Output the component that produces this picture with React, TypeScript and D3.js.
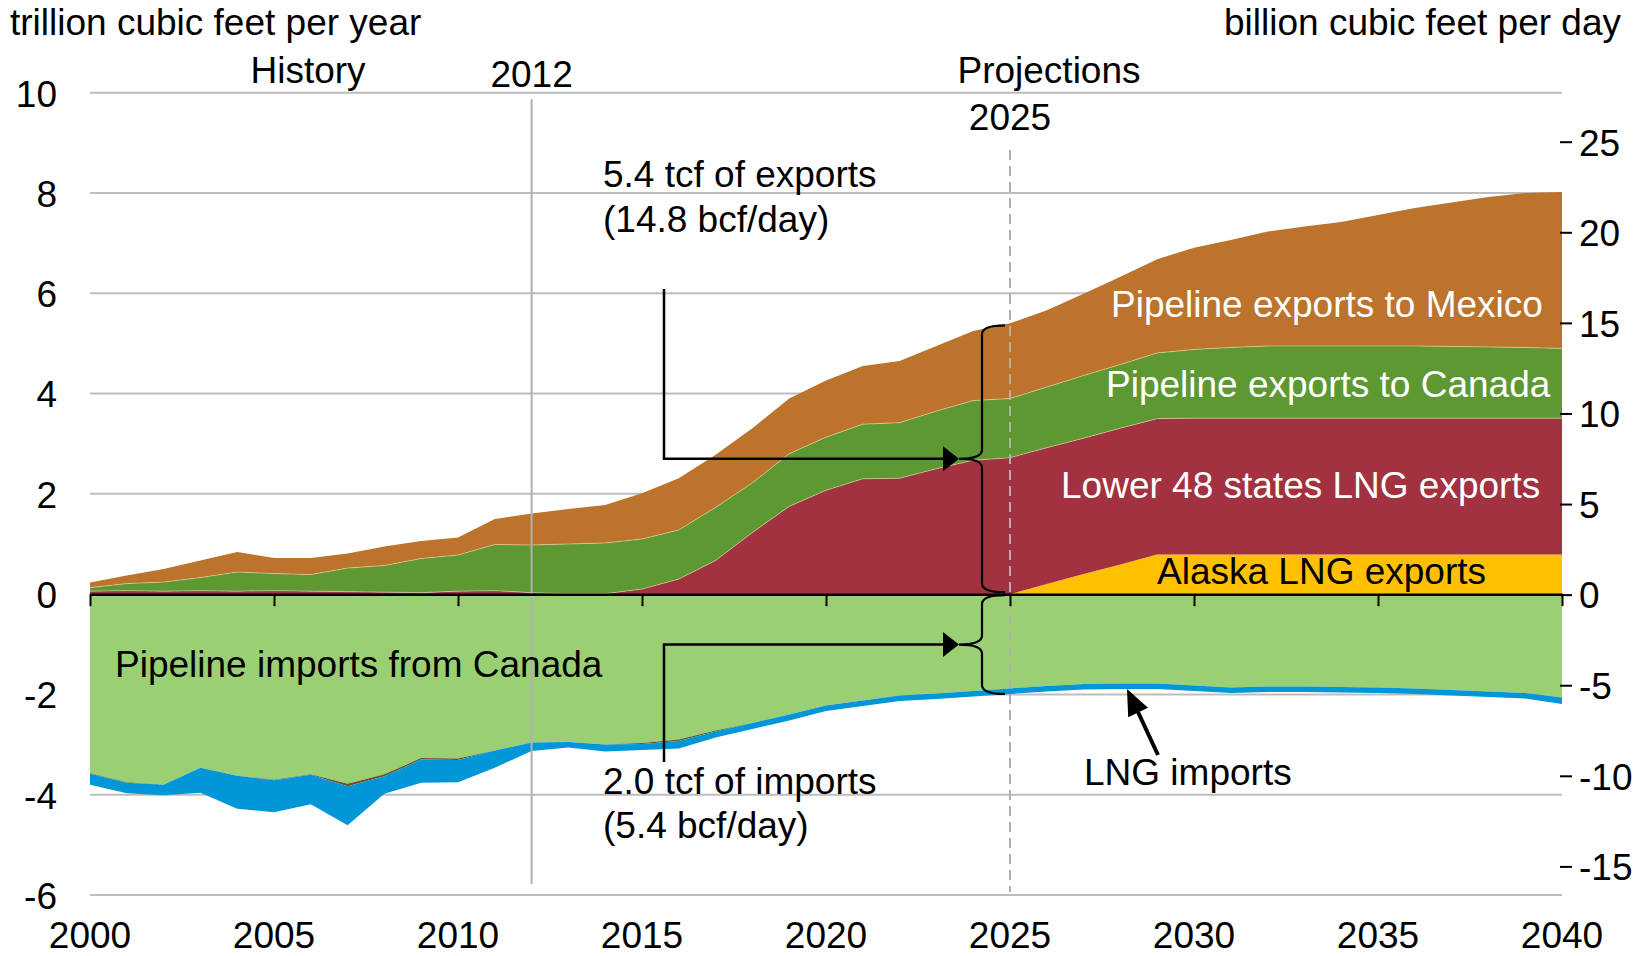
import React, { useEffect, useRef } from "react";
import { select, scaleLinear, stack, area, line, axisLeft, axisRight, axisBottom } from "d3";

// years on the x axis
const years = [
  2000, 2001, 2002, 2003, 2004, 2005, 2006, 2007, 2008, 2009,
  2010, 2011, 2012, 2013, 2014, 2015, 2016, 2017, 2018, 2019,
  2020, 2021, 2022, 2023, 2024, 2025, 2026, 2027, 2028, 2029,
  2030, 2031, 2032, 2033, 2034, 2035, 2036, 2037, 2038, 2039, 2040,
];

// exports, trillion cubic feet per year (stacked upward in this order)
const alaskaLngExports = [
  0, 0, 0, 0, 0, 0, 0, 0, 0, 0,
  0, 0, 0, 0, 0, 0, 0, 0, 0, 0,
  0, 0, 0, 0, 0, 0, 0.2, 0.4, 0.59, 0.79,
  0.79, 0.79, 0.79, 0.79, 0.79, 0.79, 0.79, 0.79, 0.79, 0.79, 0.79,
];
const lower48LngExports = [
  0.06, 0.07, 0.06, 0.07, 0.06, 0.07, 0.06, 0.05, 0.04, 0.03,
  0.06, 0.07, 0.03, 0.01, 0.01, 0.1, 0.3, 0.67, 1.23, 1.75,
  2.07, 2.3, 2.31, 2.5, 2.67, 2.72, 2.72, 2.71, 2.72, 2.71,
  2.72, 2.72, 2.72, 2.72, 2.72, 2.72, 2.72, 2.72, 2.72, 2.72, 2.72,
];
const pipelineExportsCanada = [
  0.07, 0.14, 0.18, 0.26, 0.38, 0.34, 0.33, 0.47, 0.53, 0.68,
  0.72, 0.92, 0.95, 0.99, 1.01, 1.0, 0.98, 1.06, 0.99, 1.05,
  1.06, 1.09, 1.11, 1.15, 1.19, 1.18, 1.21, 1.25, 1.27, 1.31,
  1.37, 1.41, 1.44, 1.44, 1.44, 1.44, 1.44, 1.43, 1.42, 1.41, 1.39,
];
const pipelineExportsMexico = [
  0.1, 0.16, 0.26, 0.34, 0.4, 0.31, 0.33, 0.29, 0.38, 0.35,
  0.35, 0.51, 0.63, 0.7, 0.76, 0.91, 1.03, 1.05, 1.09, 1.1,
  1.13, 1.16, 1.23, 1.3, 1.39, 1.5, 1.53, 1.63, 1.75, 1.87,
  2.03, 2.14, 2.28, 2.38, 2.47, 2.61, 2.75, 2.87, 2.99, 3.08, 3.12,
];

// imports, negative (stacked downward in this order)
const pipelineImportsCanada = [
  -3.57, -3.75, -3.8, -3.46, -3.62, -3.7, -3.59, -3.78, -3.59, -3.27,
  -3.28, -3.12, -2.96, -2.95, -3.0, -2.97, -2.9, -2.72, -2.57, -2.4,
  -2.22, -2.12, -2.02, -1.98, -1.93, -1.88, -1.83, -1.79, -1.78, -1.78,
  -1.82, -1.86, -1.84, -1.84, -1.85, -1.86, -1.88, -1.91, -1.94, -1.97, -2.06,
];
const pipelineImportsMexico = [
  -0.01, -0.01, 0, 0, 0, -0.01, -0.01, -0.05, -0.04, -0.03,
  -0.03, 0, 0, 0, 0, -0.02, -0.03, -0.02, 0, 0,
  0, 0, 0, 0, 0, 0, 0, 0, 0, 0,
  0, 0, 0, 0, 0, 0, 0, 0, 0, 0, 0,
];
const lngImports = [
  -0.22, -0.21, -0.21, -0.5, -0.66, -0.64, -0.59, -0.78, -0.35, -0.46,
  -0.44, -0.34, -0.17, -0.11, -0.14, -0.12, -0.15, -0.12, -0.12, -0.12,
  -0.11, -0.11, -0.11, -0.11, -0.11, -0.11, -0.11, -0.11, -0.11, -0.11,
  -0.11, -0.11, -0.11, -0.11, -0.11, -0.11, -0.11, -0.11, -0.11, -0.11, -0.13,
];

const leftTicks = [-6, -4, -2, 0, 2, 4, 6, 8, 10];
const rightTicks = [-15, -10, -5, 0, 5, 10, 15, 20, 25];
const xTicks = [2000, 2005, 2010, 2015, 2020, 2025, 2030, 2035, 2040];

const colors: Record<string, string> = {
  alaska: "#FFC000",
  lower48: "#A2323F",
  canadaOut: "#5E9833",
  mexicoOut: "#BC742D",
  canadaIn: "#9ACF74",
  mexicoIn: "#6B5322",
  lngIn: "#0096D7",
};

const FONT = "'Liberation Sans', Arial, Helvetica, sans-serif";
const FS = 37;

const App = () => {
  const ref = useRef<SVGSVGElement>(null);

  useEffect(() => {
    document.body.style.margin = "0";
    const svg = select(ref.current);
    svg.selectAll("*").remove();

    const x = scaleLinear().domain([2000, 2040]).range([90, 1562]);
    const y = scaleLinear().domain([-6, 10]).range([895, 92.7]);
    const yRight = scaleLinear().domain([-15, 25]).range([866.4, 141.7]);

    const table = years.map((year, i) => ({
      year,
      alaska: alaskaLngExports[i],
      lower48: lower48LngExports[i],
      canadaOut: pipelineExportsCanada[i],
      mexicoOut: pipelineExportsMexico[i],
      canadaIn: pipelineImportsCanada[i],
      mexicoIn: pipelineImportsMexico[i],
      lngIn: lngImports[i],
    }));

    const exportSeries = stack<any>().keys(["alaska", "lower48", "canadaOut", "mexicoOut"])(table);
    const importSeries = stack<any>().keys(["canadaIn", "mexicoIn", "lngIn"])(table);

    const areaGen = area<any>()
      .x((d) => x(d.data.year))
      .y0((d) => y(d[0]))
      .y1((d) => y(d[1]));
    const topEdge = line<any>()
      .x((d) => x(d.data.year))
      .y((d) => y(d[1]));

    // horizontal gridlines (behind the areas)
    svg.append("g")
      .selectAll("line")
      .data(leftTicks.filter((t) => t !== 0))
      .join("line")
      .attr("x1", x(2000))
      .attr("x2", x(2040))
      .attr("y1", (d) => y(d))
      .attr("y2", (d) => y(d))
      .attr("stroke", "#bdbdbd")
      .attr("stroke-width", 2);

    svg.append("g")
      .selectAll("path")
      .data([...importSeries, ...exportSeries])
      .join("path")
      .attr("d", (d: any) => areaGen(d))
      .attr("fill", (d: any) => colors[d.key]);

    // faint light seams between the stacked export bands
    svg.append("g")
      .selectAll("path")
      .data(exportSeries.slice(1, 3))
      .join("path")
      .attr("d", (d: any) => topEdge(d))
      .attr("fill", "none")
      .attr("stroke", "rgba(255,235,200,0.45)")
      .attr("stroke-width", 1);

    // history / projection markers
    svg.append("line")
      .attr("x1", x(2012)).attr("x2", x(2012))
      .attr("y1", 99).attr("y2", 884)
      .attr("stroke", "#b0b0b0").attr("stroke-width", 2);
    svg.append("line")
      .attr("x1", x(2025)).attr("x2", x(2025))
      .attr("y1", 150).attr("y2", 892)
      .attr("stroke", "#b0b0b0").attr("stroke-width", 2)
      .attr("stroke-dasharray", "10,6");

    // zero axis with ticks
    const zeroAxis = svg.append("g")
      .attr("transform", `translate(0,${y(0)})`)
      .call(axisBottom(x).tickValues(xTicks).tickSize(12).tickSizeOuter(0).tickFormat(() => ""));
    zeroAxis.select(".domain").attr("stroke", "#000").attr("stroke-width", 2.5);
    zeroAxis.selectAll(".tick line").attr("stroke", "#000").attr("stroke-width", 2);

    // x labels at the bottom
    svg.append("g")
      .selectAll("text")
      .data(xTicks)
      .join("text")
      .attr("x", (d) => x(d))
      .attr("y", 948)
      .attr("text-anchor", "middle")
      .attr("font-family", FONT)
      .attr("font-size", FS)
      .text((d) => String(d));

    const leftAxis = svg.append("g")
      .attr("transform", "translate(57,0)")
      .call(axisLeft(y).tickValues(leftTicks).tickSize(0).tickPadding(0).tickFormat((d) => String(d)));
    leftAxis.select(".domain").remove();
    leftAxis.attr("font-family", FONT).attr("font-size", FS);
    leftAxis.selectAll("text").attr("dy", "0.36em").attr("fill", "#000");

    const rightAxis = svg.append("g")
      .attr("transform", "translate(1560,0)")
      .call(axisRight(yRight).tickValues(rightTicks).tickSize(12).tickPadding(7).tickFormat((d) => String(d)));
    rightAxis.select(".domain").remove();
    rightAxis.attr("font-family", FONT).attr("font-size", FS);
    rightAxis.selectAll(".tick line").attr("stroke", "#000").attr("stroke-width", 2);
    rightAxis.selectAll("text").attr("dy", "0.36em").attr("fill", "#000");

    const label = (txt: string, tx: number, ty: number, anchor = "start", fill = "#000") =>
      svg.append("text")
        .attr("x", tx).attr("y", ty)
        .attr("text-anchor", anchor)
        .attr("font-family", FONT)
        .attr("font-size", FS)
        .attr("fill", fill)
        .text(txt);

    label("trillion cubic feet per year", 10, 35);
    label("billion cubic feet per day", 1621, 35, "end");
    label("History", 308, 83, "middle");
    label("2012", x(2012), 87, "middle");
    label("Projections", 1049, 83, "middle");
    label("2025", x(2025), 130, "middle");

    label("5.4 tcf of exports", 603, 187);
    label("(14.8 bcf/day)", 603, 232);
    label("2.0 tcf of imports", 603, 794);
    label("(5.4 bcf/day)", 603, 838);

    // braces and connectors
    const i25 = years.indexOf(2025);
    const expTop = y(exportSeries[exportSeries.length - 1][i25][1]);
    const impBot = y(importSeries[importSeries.length - 1][i25][1]);
    const y0 = y(0);
    const xStem = x(2025) - 28;
    const xEnd = x(2025) - 5;
    const xCusp = x(2025) - 51;

    const brace = (yTop: number, yBot: number) => {
      const yMid = (yTop + yBot) / 2;
      const r = 9;
      return `M${xEnd},${yTop} Q${xStem},${yTop} ${xStem},${yTop + r} L${xStem},${yMid - r} ` +
        `Q${xStem},${yMid} ${xCusp},${yMid} Q${xStem},${yMid} ${xStem},${yMid + r} ` +
        `L${xStem},${yBot - r} Q${xStem},${yBot} ${xEnd},${yBot}`;
    };

    const expMid = (expTop + 2 + y0 - 2) / 2;
    const impMid = (y0 + 1 + impBot) / 2;

    svg.append("path").attr("d", brace(expTop + 2, y0 - 2))
      .attr("fill", "none").attr("stroke", "#000").attr("stroke-width", 2.2);
    svg.append("path").attr("d", brace(y0 + 1, impBot))
      .attr("fill", "none").attr("stroke", "#000").attr("stroke-width", 2.2);

    const connX = 664;
    svg.append("path")
      .attr("d", `M${connX},289 L${connX},${expMid} L${xCusp - 14},${expMid}`)
      .attr("fill", "none").attr("stroke", "#000").attr("stroke-width", 2.5);
    svg.append("path")
      .attr("d", `M${connX},762 L${connX},${impMid} L${xCusp - 14},${impMid}`)
      .attr("fill", "none").attr("stroke", "#000").attr("stroke-width", 2.5);

    [expMid, impMid].forEach((ym) => {
      svg.append("path")
        .attr("d", `M${xCusp},${ym} L${xCusp - 16},${ym - 12.5} L${xCusp - 16},${ym + 12.5} Z`)
        .attr("fill", "#000");
    });

    // LNG imports arrow
    svg.append("line")
      .attr("x1", 1158).attr("y1", 755)
      .attr("x2", 1138).attr("y2", 712)
      .attr("stroke", "#000").attr("stroke-width", 4);
    svg.append("path")
      .attr("d", "M1127,689 L1148,707.8 L1128.2,717.2 Z")
      .attr("fill", "#000");

    // series labels
    label("Pipeline exports to Mexico", 1111, 317, "start", "#fff");
    label("Pipeline exports to Canada", 1106, 397, "start", "#fff");
    label("Lower 48 states LNG exports", 1061, 498, "start", "#fff");
    label("Alaska LNG exports", 1157, 584);
    label("Pipeline imports from Canada", 115, 677);
    label("LNG imports", 1084, 785);
  }, []);

  return (
    <svg
      ref={ref}
      width={1648}
      height={956}
      style={{ display: "block", position: "absolute", left: 0, top: 0, background: "#fff" }}
    />
  );
};

export default App;
